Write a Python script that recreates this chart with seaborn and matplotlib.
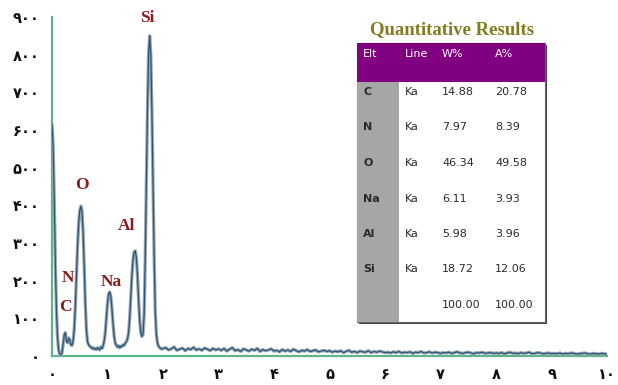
import numpy as np
import pandas as pd
import matplotlib
matplotlib.use("Agg")
import matplotlib.pyplot as plt
import seaborn as sns
from matplotlib.patches import Rectangle

# ---- EDS spectrum: counts per channel ----
# fine channels (0.02 keV) over the light-element region
counts_low = [
    615, 560, 420, 250, 120, 50, 15, 5, 3, 8,
    30, 55, 62, 40, 35, 48, 42, 30, 28, 40,
    70, 130, 210, 290, 350, 385, 398, 385, 330, 240,
    140, 70, 38, 30, 26, 24, 20, 22, 18, 20,
    17, 22, 19, 16, 24, 20, 26, 40, 62, 100,
    140, 165, 170, 158, 125, 85, 52, 34, 28, 24,
    27, 22, 26, 25, 30, 28, 34, 38, 45, 62,
    100, 160, 215, 255, 276, 279, 262, 215, 150, 95,
    62, 52, 58, 110, 260, 450, 650, 800, 850, 800,
    650, 460, 270, 120, 58, 35, 26, 22, 20, 18, 20,
]
# coarser channels (0.05 keV) over the background from 2.05 to 10 keV
counts_high = [
    22, 16, 19, 24, 15, 18, 21, 14, 20, 17, 23, 16, 19, 15, 21, 18, 14, 20, 16, 19,
    15, 20, 13, 18, 22, 14, 17, 12, 19, 16, 13, 18, 15, 20, 12, 17, 14, 16, 19, 13,
    15, 11, 17, 13, 16, 12, 18, 14, 11, 15, 13, 17, 12, 14, 16, 11, 13, 15, 12, 14,
    10, 13, 11, 14, 9, 12, 15, 10, 12, 9, 13, 11, 10, 14, 9, 12, 10, 13, 11, 9,
    10, 8, 11, 9, 12, 8, 10, 9, 11, 7, 10, 9, 12, 8, 9, 11, 8, 10, 9, 7,
    9, 8, 10, 7, 9, 11, 8, 7, 9, 10, 8, 6, 9, 8, 10, 7, 8, 9, 7, 8,
    7, 9, 6, 8, 10, 7, 8, 6, 9, 7, 8, 10, 6, 7, 9, 8, 6, 7, 8, 6,
    7, 6, 8, 5, 7, 6, 8, 7, 5, 6, 7, 8, 6, 5, 7, 6, 5, 7, 6, 5,
]
energy_low = np.round(np.arange(len(counts_low)) * 0.02, 3)
energy_high = np.round(2.0 + (np.arange(len(counts_high)) + 1) * 0.05, 3)

# ---- peak labels ----
peak_names = ["Si", "O", "Al", "Na", "N", "C"]
peak_x = [1.72, 0.54, 1.34, 1.07, 0.29, 0.25]
peak_y = [897, 453, 345, 196, 207, 130]

# ---- quantitative results table ----
tbl_elements = ["C", "N", "O", "Na", "Al", "Si"]
tbl_lines = ["Ka", "Ka", "Ka", "Ka", "Ka", "Ka"]
tbl_wt = ["14.88", "7.97", "46.34", "6.11", "5.98", "18.72"]
tbl_at = ["20.78", "8.39", "49.58", "3.93", "3.96", "12.06"]
tbl_total = ["100.00", "100.00"]
tbl_header = ["Elt", "Line", "W%", "A%"]

x_ticks = list(range(0, 11))
y_ticks = list(range(0, 1000, 100))

persian = str.maketrans("0123456789", "۰۱۲۳۴۵۶۷۸۹")

spec = pd.DataFrame({
    "energy": np.concatenate([energy_low, energy_high]),
    "counts": counts_low + counts_high,
})

sns.set_style("white")
plt.rcParams["font.family"] = ["DejaVu Sans"]

W, H = 618, 385
fig = plt.figure(figsize=(W / 100, H / 100), dpi=100)
ax = fig.add_axes([52 / W, (H - 356) / H, (607 - 52) / W, (356 - 17) / H])

green = "#5fb48a"
sns.lineplot(data=spec, x="energy", y="counts", ax=ax, color="#9aa8b4",
             lw=2.4, estimator=None, sort=False, zorder=3)
sns.lineplot(data=spec, x="energy", y="counts", ax=ax, color="#2c5677",
             lw=0.9, estimator=None, sort=False, zorder=4)

ax.set_xlim(0, 10)
ax.set_ylim(0, 900)
ax.set_xlabel("")
ax.set_ylabel("")
for s in ["top", "right"]:
    ax.spines[s].set_visible(False)
for s in ["left", "bottom"]:
    ax.spines[s].set_color(green)
    ax.spines[s].set_linewidth(1.6)
    ax.spines[s].set_zorder(2)

ax.set_xticks(x_ticks)
ax.set_xticklabels([str(v).translate(persian) for v in x_ticks])
ax.set_yticks(y_ticks)
ax.set_yticklabels([str(v).translate(persian) for v in y_ticks])
ax.tick_params(axis="both", length=0, labelsize=10.5, colors="#111111")
ax.tick_params(axis="x", pad=8)
ax.tick_params(axis="y", pad=9)
for lab in ax.get_xticklabels() + ax.get_yticklabels():
    lab.set_fontweight("bold")

for name, px, py in zip(peak_names, peak_x, peak_y):
    ax.text(px, py, name, ha="center", va="center", color="#8c1c1c",
            fontsize=12.5, fontweight="bold", family="Liberation Serif", zorder=5)

# ---- results table in pixel coordinates ----
ov = fig.add_axes([0, 0, 1, 1], facecolor="none")
ov.set_xlim(0, W)
ov.set_ylim(H, 0)
ov.axis("off")

left, right, top, bottom = 357, 545, 43, 322
header_bottom = 82
gray_right = 399
ov.add_patch(Rectangle((left + 2, top + 2), right - left, bottom - top,
                       facecolor="#444444", edgecolor="none", zorder=1))
ov.add_patch(Rectangle((left, top), right - left, bottom - top,
                       facecolor="white", edgecolor="#666666", lw=0.8, zorder=2))
ov.add_patch(Rectangle((left, top), right - left, header_bottom - top,
                       facecolor="#800080", edgecolor="none", zorder=3))
ov.add_patch(Rectangle((left, header_bottom), gray_right - left, bottom - header_bottom,
                       facecolor="#a6a6a6", edgecolor="none", zorder=3))

ov.text((left + right) / 2 + 1, 30, "Quantitative Results", ha="center", va="center",
        color="#847b1e", fontsize=13.5, fontweight="bold", family="Liberation Serif")

col_x = [363, 405, 442, 495]
fs = 8
for cx, h in zip(col_x, tbl_header):
    ov.text(cx, 54, h, ha="left", va="center", color="white", fontsize=fs, zorder=5)

row_y0, row_dy = 92, 35.5
txt = "#2a2a2a"
for i, (el, ln, w, a) in enumerate(zip(tbl_elements, tbl_lines, tbl_wt, tbl_at)):
    y = row_y0 + i * row_dy
    ov.text(col_x[0], y, el, ha="left", va="center", color=txt, fontsize=fs,
            fontweight="bold", zorder=5)
    ov.text(col_x[1], y, ln, ha="left", va="center", color=txt, fontsize=fs, zorder=5)
    ov.text(col_x[2], y, w, ha="left", va="center", color=txt, fontsize=fs, zorder=5)
    ov.text(col_x[3], y, a, ha="left", va="center", color=txt, fontsize=fs, zorder=5)
y = row_y0 + len(tbl_elements) * row_dy
ov.text(col_x[2], y, tbl_total[0], ha="left", va="center", color=txt, fontsize=fs, zorder=5)
ov.text(col_x[3], y, tbl_total[1], ha="left", va="center", color=txt, fontsize=fs, zorder=5)

fig.savefig("out.png", dpi=100)
